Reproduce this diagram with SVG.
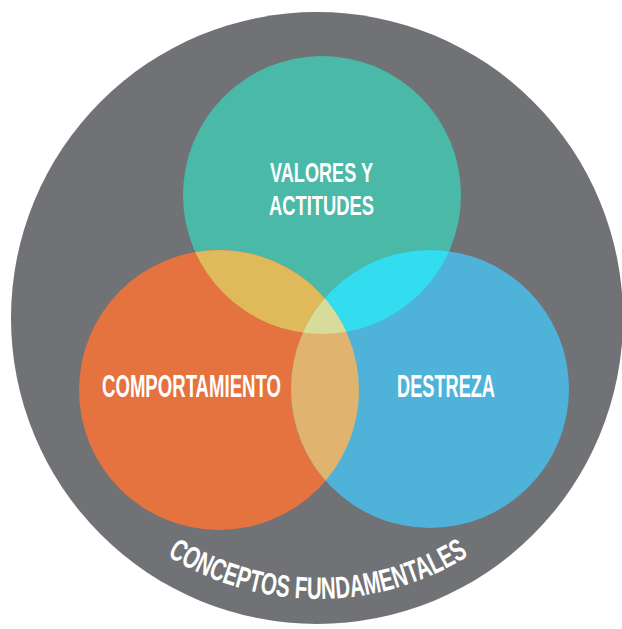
<svg xmlns="http://www.w3.org/2000/svg" width="622" height="629" viewBox="0 0 622 629">
<style>
.lbl{font-family:"Liberation Sans",Arial,sans-serif;font-weight:bold;font-size:31px;fill:#ffffff}
.lbl2{font-family:"Liberation Sans",Arial,sans-serif;font-weight:bold;font-size:28px;fill:#ffffff}
.arc{font-family:"Liberation Sans",Arial,sans-serif;font-weight:bold;font-size:31px;fill:#ffffff}
</style>
<defs>
<clipPath id="cT"><circle cx="322" cy="195" r="139"/></clipPath>
<clipPath id="cO"><circle cx="219" cy="390" r="140"/></clipPath>
<clipPath id="cB"><circle cx="430" cy="389" r="139"/></clipPath>
<path id="bottomArc" d="M34,315 A284,284 0 0 0 602,315"/>
</defs>
<rect width="622" height="629" fill="#ffffff"/>
<g id="outer">
<circle cx="317" cy="318" r="306" fill="#717275"/>
<text class="arc"><textPath href="#bottomArc" startOffset="50%" text-anchor="middle" textLength="318" lengthAdjust="spacingAndGlyphs">CONCEPTOS FUNDAMENTALES</textPath></text>
</g>
<g id="valores">
<circle cx="322" cy="195" r="139" fill="#4bb9a7"/>
</g>
<g id="comportamiento">
<circle cx="219" cy="390" r="140" fill="#e5733f"/>
</g>
<g id="destreza">
<circle cx="430" cy="389" r="139" fill="#4fb2d8"/>
</g>
<g id="overlaps">
<g clip-path="url(#cT)"><circle cx="219" cy="390" r="140" fill="#dfb95a"/><circle cx="430" cy="389" r="139" fill="#33dcee"/></g>
<g clip-path="url(#cO)"><circle cx="430" cy="389" r="139" fill="#e0b36f"/></g>
<g clip-path="url(#cT)"><g clip-path="url(#cO)"><circle cx="430" cy="389" r="139" fill="#d8dc9b"/></g></g>
</g>
<g id="labels">
<text class="lbl2" x="270" y="182" textLength="103" lengthAdjust="spacingAndGlyphs">VALORES Y</text>
<text class="lbl2" x="269" y="215" textLength="105" lengthAdjust="spacingAndGlyphs">ACTITUDES</text>
<text class="lbl" x="102" y="397" textLength="179" lengthAdjust="spacingAndGlyphs">COMPORTAMIENTO</text>
<text class="lbl" x="397" y="397" textLength="98" lengthAdjust="spacingAndGlyphs">DESTREZA</text>
</g>
</svg>
